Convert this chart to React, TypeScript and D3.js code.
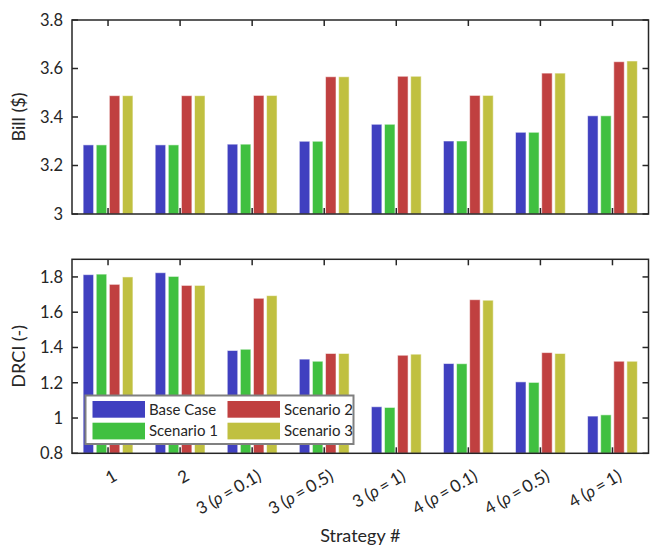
import React from "react";
import * as d3 from "d3";

const categories = ["1", "2", "3 (ρ = 0.1)", "3 (ρ = 0.5)", "3 (ρ = 1)", "4 (ρ = 0.1)", "4 (ρ = 0.5)", "4 (ρ = 1)"];
const seriesNames = ["Base Case", "Scenario 1", "Scenario 2", "Scenario 3"];
const seriesColors = ["#4040c0", "#40c040", "#c04040", "#c0c040"];

const billBase = [3.285, 3.285, 3.288, 3.300, 3.370, 3.301, 3.337, 3.405];
const billS1 = [3.285, 3.285, 3.288, 3.300, 3.370, 3.301, 3.337, 3.405];
const billS2 = [3.488, 3.488, 3.489, 3.566, 3.568, 3.489, 3.581, 3.628];
const billS3 = [3.488, 3.488, 3.489, 3.566, 3.568, 3.489, 3.581, 3.631];

const drciBase = [1.813, 1.824, 1.383, 1.334, 1.064, 1.309, 1.205, 1.011];
const drciS1 = [1.816, 1.803, 1.390, 1.322, 1.060, 1.308, 1.202, 1.018];
const drciS2 = [1.758, 1.752, 1.679, 1.366, 1.356, 1.671, 1.371, 1.322];
const drciS3 = [1.800, 1.752, 1.694, 1.366, 1.362, 1.668, 1.366, 1.322];

const billTicks = [3, 3.2, 3.4, 3.6, 3.8];
const billTickLabels = ["3", "3.2", "3.4", "3.6", "3.8"];
const drciTicks = [0.8, 1, 1.2, 1.4, 1.6, 1.8];
const drciTickLabels = ["0.8", "1", "1.2", "1.4", "1.6", "1.8"];

const W = 650;
const H = 549;
const left = 72;
const right = 648.5;
const FONT = "Lato, 'Open Sans', sans-serif";
const AX = "#262626";

const x0 = d3.scaleBand<string>().domain(categories).range([left, right]).paddingInner(0.2727).paddingOuter(0.13635);
const x1 = d3.scaleBand<string>().domain(seriesNames).range([0, x0.bandwidth()]).paddingInner(0.2).paddingOuter(0.1);

function TickLabel({ label }: { label: string }) {
  const i = label.indexOf("ρ");
  if (i < 0) return <>{label}</>;
  const before = label.slice(0, i).replace(/\s*\($/, "");
  const after = label.slice(i + 1).replace(/^\s*=\s*/, "");
  return (
    <>
      {before}
      <tspan dx={4}>(</tspan>
      <tspan fontStyle="italic">ρ</tspan>
      <tspan dx={3}>=</tspan>
      <tspan dx={3}>{after}</tspan>
    </>
  );
}

function Panel({
  top,
  bottom,
  domain,
  ticks,
  tickLabels,
  series,
  ylabel,
  showX,
}: {
  top: number;
  bottom: number;
  domain: [number, number];
  ticks: number[];
  tickLabels: string[];
  series: number[][];
  ylabel: string;
  showX: boolean;
}) {
  const y = d3.scaleLinear().domain(domain).range([bottom, top]);
  const tl = 6;
  return (
    <g>
      {categories.map((c, ci) => (
        <g key={c}>
          {seriesNames.map((s, si) => {
            const v = series[si][ci];
            const bx = (x0(c) as number) + (x1(s) as number);
            return (
              <rect
                key={s}
                x={bx}
                y={y(v)}
                width={x1.bandwidth()}
                height={bottom - y(v)}
                fill={seriesColors[si]}
                stroke="rgba(255,255,255,0.55)"
                strokeWidth={1}
              />
            );
          })}
        </g>
      ))}
      <rect x={left} y={top} width={right - left} height={bottom - top} fill="none" stroke={AX} strokeWidth={1.5} />
      {ticks.map((t, i) => (
        <g key={t}>
          <line x1={left} x2={left + tl} y1={y(t)} y2={y(t)} stroke={AX} strokeWidth={1.5} />
          <line x1={right} x2={right - tl} y1={y(t)} y2={y(t)} stroke={AX} strokeWidth={1.5} />
          <text x={left - 9} y={y(t)} dy="0.36em" textAnchor="end" fontSize={16.5} fill={AX} fontFamily={FONT}>
            {tickLabels[i]}
          </text>
        </g>
      ))}
      {categories.map((c) => {
        const cx = (x0(c) as number) + x0.bandwidth() / 2;
        return (
          <g key={c}>
            <line x1={cx} x2={cx} y1={bottom} y2={bottom - tl} stroke={AX} strokeWidth={1.5} />
            <line x1={cx} x2={cx} y1={top} y2={top + tl} stroke={AX} strokeWidth={1.5} />
            {showX && (
              <text
                transform={`translate(${cx + 4},${bottom + 15}) rotate(-30)`}
                textAnchor="end"
                dy="0.75em"
                fontSize={17}
                fill={AX}
                fontFamily={FONT}
              >
                <TickLabel label={c} />
              </text>
            )}
          </g>
        );
      })}
      <text
        transform={`translate(25,${(top + bottom) / 2}) rotate(-90)`}
        textAnchor="middle"
        fontSize={18}
        fill={AX}
        fontFamily={FONT}
      >
        {ylabel}
      </text>
    </g>
  );
}

function Legend() {
  const lx = 85.5;
  const ly = 395.5;
  const lw = 268;
  const lh = 48.5;
  const cols = [92.5, 227.5];
  const rows = [401, 422.7];
  const sw = 52.5;
  const sh = 16.7;
  return (
    <g>
      <rect x={lx} y={ly} width={lw} height={lh} fill="#ffffff" stroke="#808080" strokeWidth={2} />
      {seriesNames.map((s, i) => {
        const col = i < 2 ? 0 : 1;
        const row = i % 2;
        const sx = cols[col];
        const sy = rows[row];
        return (
          <g key={s}>
            <rect x={sx} y={sy} width={sw} height={sh} fill={seriesColors[i]} />
            <text x={sx + sw + 4} y={sy + sh / 2} dy="0.36em" fontSize={15} fill={AX} fontFamily={FONT}>
              {s}
            </text>
          </g>
        );
      })}
    </g>
  );
}

export default function App() {
  return (
    <svg width={W} height={H} style={{ position: "absolute", left: 0, top: 0, background: "#fff" }}>
      <rect x={0} y={0} width={W} height={H} fill="#fff" />
      <Panel
        top={20}
        bottom={214}
        domain={[3, 3.8]}
        ticks={billTicks}
        tickLabels={billTickLabels}
        series={[billBase, billS1, billS2, billS3]}
        ylabel="Bill ($)"
        showX={false}
      />
      <Panel
        top={259.3}
        bottom={453.3}
        domain={[0.8, 1.9]}
        ticks={drciTicks}
        tickLabels={drciTickLabels}
        series={[drciBase, drciS1, drciS2, drciS3]}
        ylabel="DRCI (-)"
        showX={true}
      />
      <Legend />
      <text x={(left + right) / 2} y={542} textAnchor="middle" fontSize={18} fill={AX} fontFamily={FONT}>
        Strategy #
      </text>
    </svg>
  );
}
